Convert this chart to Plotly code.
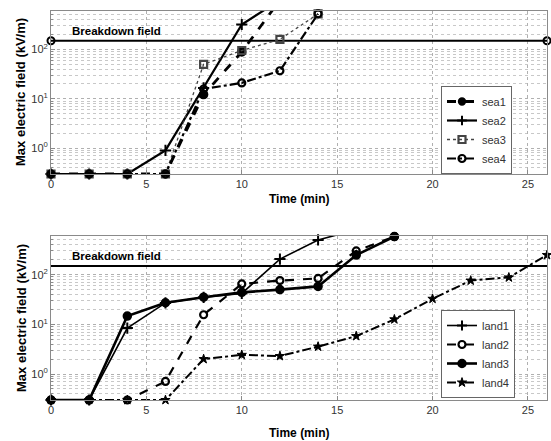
import math
import plotly.graph_objects as go
from plotly.subplots import make_subplots

# ---------------- data ----------------
t_sea = [0, 2, 4, 6, 8, 10, 12, 14]
sea1 = [0.3, 0.3, 0.3, 0.3, 12.2, 89, 1000]
sea2 = [0.3, 0.3, 0.3, 0.9, 16.6, 320, 1000]
sea3 = [0.3, 0.3, 0.3, 0.3, 50, 95, 160, 525]
sea4 = [0.3, 0.3, 0.3, 0.3, 15.8, 21, 37, 525]

t_land = [0, 2, 4, 6, 8, 10, 12, 14, 16, 18, 20, 22, 24, 26]
land1 = [0.3, 0.3, 8.4, 27, 35, 42, 206, 500, 800]
land2 = [0.3, 0.3, 0.3, 0.71, 15.6, 65, 76, 84, 300, 583]
land3 = [0.3, 0.3, 14.7, 27.2, 35.2, 44, 50, 58, 248, 583]
land4 = [0.3, 0.3, 0.3, 0.3, 2.0, 2.43, 2.3, 3.56, 5.8, 12.6, 32.7, 76, 88, 248]

breakdown = 150
breakdown_t = [0, 26]

y_min, y_max = 0.3, 600
x_ticks = [0, 5, 10, 15, 20, 25]
y_ticks = [1, 10, 100]
y_ticktext = ["10<sup>0</sup>", "10<sup>1</sup>", "10<sup>2</sup>"]
y_minor = [m * 10 ** e for e in (-1, 0, 1, 2) for m in range(2, 10)
           if y_min <= m * 10 ** e <= y_max]

FONT = "Liberation Sans, Arial, sans-serif"
INK = "#000000"

# pixel layout helpers (figure 551x441)
W, H = 551, 441
ML, MR, MT, MB = 51, 4, 11, 41
PW, PH = W - ML - MR, H - MT - MB


def px_x(px):
    return (px - ML) / PW


def px_y(py):
    return (H - MB - py) / PH


fig = make_subplots(rows=2, cols=1, vertical_spacing=0.16)


def sizes(ys, s):
    return [s if (v is not None and v <= y_max) else 0 for v in ys]


def add(x, y, name, dash, width, symbol, msize, row, legend, color=INK, lw=1.5):
    x = x[:len(y)]
    fig.add_trace(go.Scatter(
        x=x, y=y, name=name, mode="lines+markers",
        line=dict(color=color, dash=dash, width=width),
        marker=dict(symbol=symbol, size=sizes(y, msize), color=color, opacity=1,
                    line=dict(color=color, width=lw)),
        cliponaxis=False, legend=legend,
    ), row=row, col=1)


# breakdown lines
fig.add_trace(go.Scatter(x=breakdown_t, y=[breakdown] * 2, mode="lines+markers",
                         line=dict(color=INK, width=2),
                         marker=dict(symbol="circle-open", size=7, color=INK, line=dict(width=2)),
                         showlegend=False, cliponaxis=False), row=1, col=1)
fig.add_trace(go.Scatter(x=breakdown_t, y=[breakdown] * 2, mode="lines",
                         line=dict(color=INK, width=2),
                         showlegend=False), row=2, col=1)

# sea series
add(t_sea, sea1, "sea1", "dash", 2.8, "circle", 8, 1, "legend")
add(t_sea, sea2, "sea2", "solid", 2.2, "cross-thin-open", 8, 1, "legend", lw=2)
add(t_sea, sea3, "sea3", "dot", 1.3, "square-open", 7, 1, "legend", color="#444444", lw=2.2)
add(t_sea, sea4, "sea4", "dashdot", 2.2, "circle-open", 7, 1, "legend", lw=2.2)

# land series
add(t_land, land1, "land1", "solid", 1.6, "cross-thin-open", 8, 2, "legend2", lw=2)
add(t_land, land2, "land2", "dash", 2.2, "circle-open", 7, 2, "legend2", lw=2.2)
add(t_land, land3, "land3", "solid", 2.6, "circle", 8, 2, "legend2")
add(t_land, land4, "land4", "dashdot", 2.0, "star", 7, 2, "legend2", lw=1)

axis_common = dict(
    showline=True, linecolor="#8a8a8a", linewidth=1, mirror=True,
    ticks="inside", ticklen=4, tickcolor="#8a8a8a",
    gridcolor="#b0b0b0", griddash="dot", gridwidth=1,
    zeroline=False, tickfont=dict(family=FONT, size=11, color="#333333"),
)

for r in (1, 2):
    fig.update_xaxes(range=[0, 26], tickmode="array", tickvals=x_ticks, showgrid=True,
                     **axis_common, row=r, col=1)
    fig.update_yaxes(type="log", range=[math.log10(y_min), math.log10(y_max)],
                     tickmode="array", tickvals=y_ticks, ticktext=y_ticktext, showgrid=True,
                     minor=dict(tickmode="array", tickvals=y_minor, showgrid=True,
                                griddash="dot", gridcolor="#c8c8c8", gridwidth=1,
                                ticks="inside", ticklen=2, tickcolor="#8a8a8a"),
                     **axis_common, row=r, col=1)

legend_style = dict(xanchor="left", yanchor="top",
                    bgcolor="white", bordercolor="#666666", borderwidth=1,
                    font=dict(family=FONT, size=11, color="#333333"),
                    itemwidth=30, tracegroupgap=0)

fig.update_layout(
    width=W, height=H,
    margin=dict(l=ML, r=MR, t=MT, b=MB, autoexpand=False),
    paper_bgcolor="white", plot_bgcolor="white",
    font=dict(family=FONT, color=INK),
    yaxis=dict(domain=[px_y(174), 1.0]),
    yaxis2=dict(domain=[0.0, px_y(236)]),
    legend=dict(x=px_x(441), y=px_y(86), **legend_style),
    legend2=dict(x=px_x(441), y=px_y(310), **legend_style),
    showlegend=True,
)

label_y = math.log10(breakdown) + 0.19
for xr, yr in (("x", "y"), ("x2", "y2")):
    fig.add_annotation(x=1, y=label_y, xref=xr, yref=yr, text="<b>Breakdown field</b>",
                       showarrow=False, xanchor="left", yanchor="middle",
                       font=dict(family=FONT, size=11.5, color=INK))

# axis titles
for yc in (199, 433):
    fig.add_annotation(x=px_x(299), y=px_y(yc), xref="paper", yref="paper",
                       text="<b>Time (min)</b>", showarrow=False,
                       xanchor="center", yanchor="middle",
                       font=dict(family=FONT, size=12, color=INK))

for ymid in (92, 318):
    fig.add_annotation(x=px_x(21), y=px_y(ymid), xref="paper", yref="paper",
                       text="<b>Max electric field (kV/m)</b>", textangle=-90,
                       showarrow=False, xanchor="center", yanchor="middle",
                       font=dict(family=FONT, size=13, color=INK))

fig.write_html("out.html", config={"staticPlot": True, "displayModeBar": False},
               post_script="document.body.style.margin='0px';document.body.style.padding='0px';")
